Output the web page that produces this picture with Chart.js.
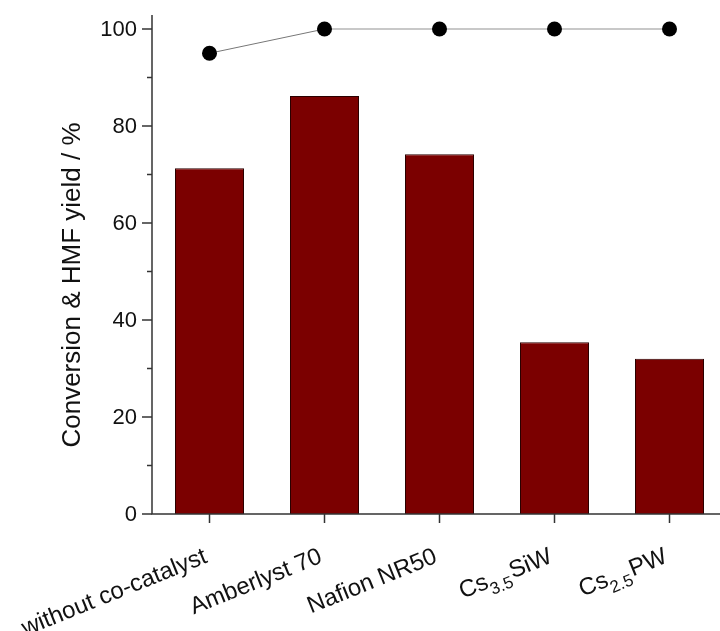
<!DOCTYPE html>
<html>
<head>
    <style>
        body, html {
            margin: 0;
            width: 720px;
            height: 631px;
            overflow: hidden;
            background: #fff;
        }
        #wrap {
            width: 740px;
            height: 631px;
            position: relative;
        }
    </style>
    <script src="https://cdn.jsdelivr.net/npm/chart.js"></script>
</head>
<body>
    <div id="wrap">
        <canvas id="yieldChart" width="740" height="631"></canvas>
    </div>

    <script>
        // categories: [main text, subscript, trailing text]
        const labelParts = [
            ["without co-catalyst", "", ""],
            ["Amberlyst 70", "", ""],
            ["Nafion NR50", "", ""],
            ["Cs", "3.5", "SiW"],
            ["Cs", "2.5", "PW"]
        ];
        const categories = ["without co-catalyst", "Amberlyst 70", "Nafion NR50", "Cs3.5SiW", "Cs2.5PW"];
        const hmfYield = [71.3, 86.2, 74.2, 35.4, 32.0];
        const conversion = [95, 100, 100, 100, 100];
        const yTickLabels = [0, 20, 40, 60, 80, 100];

        const FONT = "'Liberation Sans', Arial, sans-serif";

        // axes, ticks and labels drawn by hand (minor ticks + subscripts)
        const axisDecor = {
            id: "axisDecor",
            afterDraw(chart) {
                const ctx = chart.ctx;
                const x = chart.scales.x;
                const y = chart.scales.y;
                const area = chart.chartArea;
                ctx.save();
                ctx.strokeStyle = "#333";
                ctx.lineWidth = 1.5;

                // axis lines
                ctx.beginPath();
                ctx.moveTo(area.left, area.top - 14);
                ctx.lineTo(area.left, area.bottom);
                ctx.lineTo(area.right, area.bottom);
                ctx.stroke();

                // y ticks: major every 20, minor every 10
                for (let v = 0; v <= 100; v += 10) {
                    const py = y.getPixelForValue(v);
                    const len = v % 20 === 0 ? 10 : 5;
                    ctx.beginPath();
                    ctx.moveTo(area.left - len, py);
                    ctx.lineTo(area.left, py);
                    ctx.stroke();
                }
                ctx.fillStyle = "#111";
                ctx.font = "22px " + FONT;
                ctx.textAlign = "right";
                ctx.textBaseline = "middle";
                yTickLabels.forEach(v => {
                    ctx.fillText(String(v), area.left - 15, y.getPixelForValue(v) + 1);
                });

                // x ticks and rotated labels
                labelParts.forEach((parts, i) => {
                    const px = x.getPixelForTick(i);
                    ctx.beginPath();
                    ctx.moveTo(px, area.bottom);
                    ctx.lineTo(px, area.bottom + 9);
                    ctx.stroke();

                    ctx.save();
                    ctx.translate(px - 1, 562);
                    ctx.rotate(-22 * Math.PI / 180);
                    ctx.textBaseline = "alphabetic";
                    ctx.textAlign = "left";
                    const big = "24px " + FONT;
                    const small = "17px " + FONT;
                    ctx.font = big;
                    const w1 = ctx.measureText(parts[0]).width;
                    const w3 = ctx.measureText(parts[2]).width;
                    ctx.font = small;
                    const w2 = parts[1] ? ctx.measureText(parts[1]).width + 1 : 0;
                    let cx = -(w1 + w2 + w3);
                    ctx.font = big;
                    ctx.fillText(parts[0], cx, 0);
                    cx += w1;
                    if (parts[1]) {
                        ctx.font = small;
                        ctx.fillText(parts[1], cx, 8);
                        cx += w2;
                        ctx.font = big;
                        ctx.fillText(parts[2], cx, 0);
                    }
                    ctx.restore();
                });

                // y title
                ctx.save();
                ctx.translate(80, 285);
                ctx.rotate(-Math.PI / 2);
                ctx.textAlign = "center";
                ctx.textBaseline = "alphabetic";
                ctx.font = "26px " + FONT;
                ctx.fillText("Conversion & HMF yield / %", 0, 0);
                ctx.restore();

                ctx.restore();
            }
        };

        const ctx = document.getElementById("yieldChart").getContext("2d");
        new Chart(ctx, {
            data: {
                labels: categories,
                datasets: [
                    {
                        type: "line",
                        label: "Conversion",
                        data: conversion,
                        borderColor: "#c8c8c8",
                        borderWidth: 2,
                        segment: {
                            borderColor: c => c.p0DataIndex === 0 ? "#777" : "#c8c8c8",
                            borderWidth: c => c.p0DataIndex === 0 ? 1 : 2
                        },
                        pointRadius: 7.5,
                        pointBackgroundColor: "#000",
                        pointBorderColor: "#000",
                        pointBorderWidth: 0,
                        clip: false,
                        order: 0
                    },
                    {
                        type: "bar",
                        label: "HMF yield",
                        data: hmfYield,
                        backgroundColor: "#7b0000",
                        borderColor: "#2a0000",
                        borderWidth: 1,
                        categoryPercentage: 1.0,
                        barPercentage: 0.6,
                        order: 1
                    }
                ]
            },
            options: {
                responsive: false,
                animation: false,
                layout: { padding: { top: 29, right: 13, left: 0, bottom: 0 } },
                plugins: {
                    legend: { display: false },
                    tooltip: { enabled: false }
                },
                scales: {
                    x: {
                        type: "category",
                        offset: true,
                        grid: { display: false, drawTicks: false },
                        border: { display: false },
                        ticks: { display: false },
                        afterFit: s => { s.height = 117; }
                    },
                    y: {
                        min: 0,
                        max: 100,
                        grid: { display: false, drawTicks: false },
                        border: { display: false },
                        ticks: { display: false, stepSize: 10 },
                        afterFit: s => { s.width = 152; }
                    }
                }
            },
            plugins: [axisDecor]
        });
    </script>
</body>
</html>
